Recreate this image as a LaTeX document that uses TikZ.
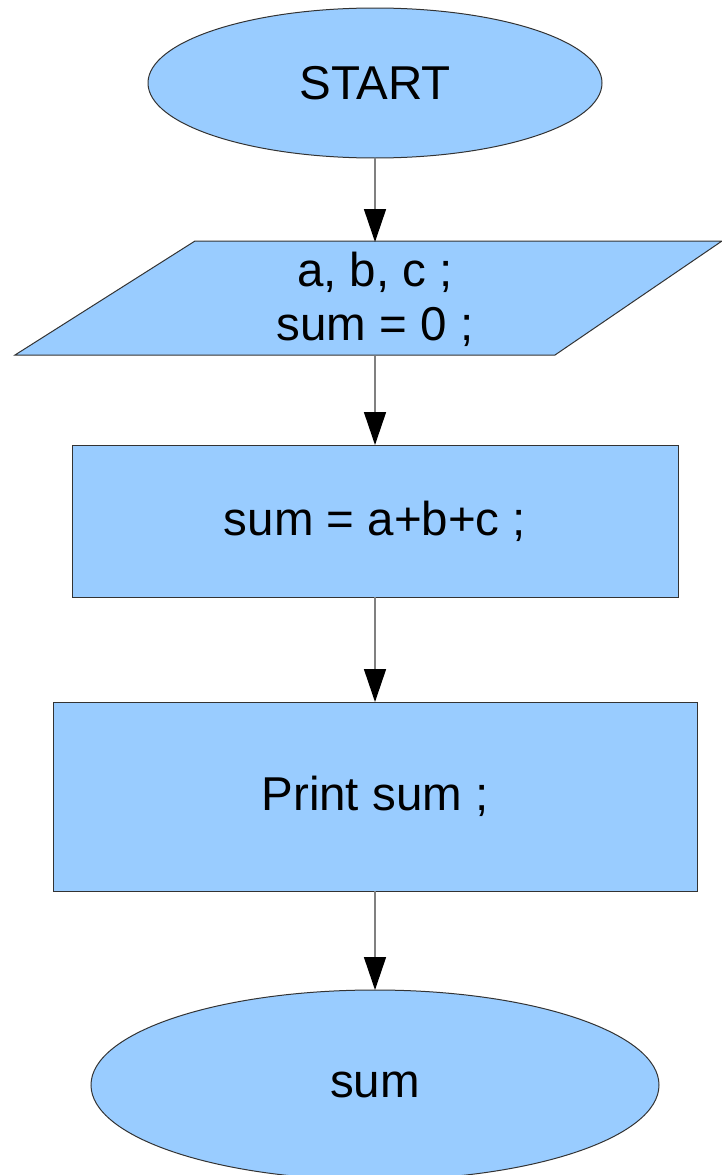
\documentclass[tikz,border=0pt]{standalone}
\usepackage{fontspec}
\setmainfont{Liberation Sans}
\usetikzlibrary{shapes.geometric,arrows.meta}
\definecolor{boxfill}{HTML}{99CCFF}
\definecolor{edgegray}{HTML}{333333}
\definecolor{linkgray}{HTML}{808080}
\tikzset{
  termbox/.style={ellipse,draw=edgegray,fill=boxfill,line width=1pt,inner sep=0pt,outer sep=0pt},
  procbox/.style={rectangle,draw=edgegray,fill=boxfill,line width=1pt,inner sep=0pt,outer sep=0pt},
  txt/.style={font=\fontsize{47.5}{54}\selectfont,align=center},
  link/.style={draw=linkgray,line width=1.6pt,-{Triangle[width=22pt,length=33pt,color=black,fill=black]}}
}
\begin{document}
\begin{tikzpicture}[x=1pt,y=-1pt]
\useasboundingbox (0,0) rectangle (722,1175);
\begin{scope}
\clip (0,0) rectangle (722,1175);
\node[termbox,txt,minimum width=454pt,minimum height=150pt] (start) at (375,83) {START};
\coordinate (p1) at (195,241);
\coordinate (p2) at (722,241);
\coordinate (p3) at (555,355);
\coordinate (p4) at (15,355);
\draw[draw=edgegray,fill=boxfill,line width=1pt] (p1) -- (p2) -- (p3) -- (p4) -- cycle;
\node[txt,inner sep=0pt,outer sep=0pt,minimum width=300pt,minimum height=114pt] (input) at (375,299) {a, b, c ;\\sum = 0 ;};
\node[procbox,txt,minimum width=606pt,minimum height=152pt] (calc) at (375,521) {sum = a+b+c ;};
\node[procbox,txt,minimum width=644pt,minimum height=189pt] (print) at (375,796.5) {Print sum ;};
\node[termbox,txt,minimum width=568pt,minimum height=190pt] (stop) at (375,1085) {sum};
\draw[link] (start) -- (input);
\draw[link] (input) -- (calc);
\draw[link] (calc) -- (print);
\draw[link] (print) -- (stop);
\end{scope}
\end{tikzpicture}
\end{document}
